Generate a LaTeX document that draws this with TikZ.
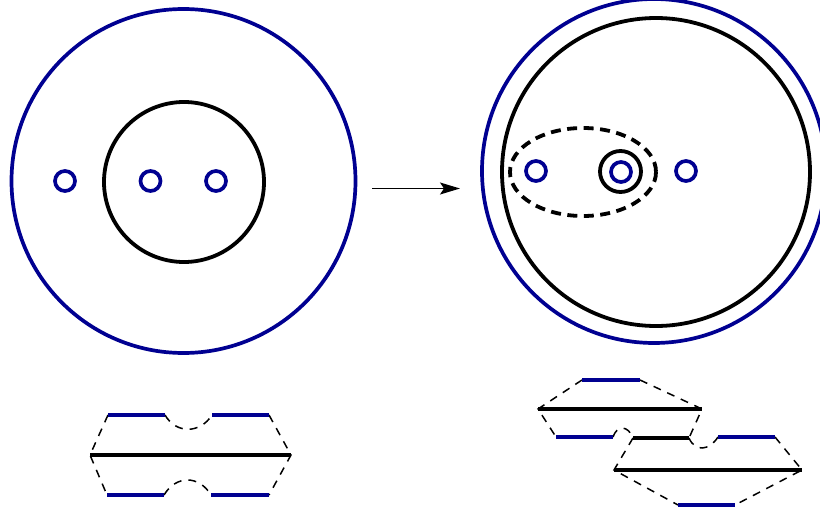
\documentclass[tikz,border=0pt]{standalone}
\usetikzlibrary{arrows.meta}
\definecolor{navy}{RGB}{0,0,145}
\tikzset{
 black line/.style={black,line width=3.8pt},
 ring/.style={navy,line width=3.7pt},
 seam/.style={black,line width=1.5pt,dash pattern=on 8pt off 7pt},
 bar/.style={line width=3.5pt,line cap=butt},
}
\begin{document}
\begin{tikzpicture}[x=1pt,y=-1pt]
\useasboundingbox (0,0) rectangle (820,514);
\clip (0,0) rectangle (820,514);
% left disc
\draw[ring] (183.5,181) circle (172);
\draw[black line] (184,182) circle (80);
\foreach \p in {65,150.5,216} \draw[ring] (\p,181) circle (10);
% arrow
\coordinate (arrowA) at (372,188.5);
\coordinate (arrowB) at (460,188.5);
\draw[-{Stealth[length=20pt,width=12pt,inset=4pt]},line width=1.3pt] (arrowA) -- (arrowB);
% right disc
\draw[ring] (654,171) circle (172);
\draw[black line] (656,172) circle (154);
\draw[ring] (536,171) circle (10);
\draw[ring] (621,172) circle (10);
\draw[ring] (686,171) circle (10);
\draw[black line] (620.5,171.5) circle (20.5);
\draw[black line,dash pattern=on 10pt off 6.5pt] (583,172) ellipse (73 and 44);
% lower left piece
\coordinate (a1) at (108,415); \coordinate (a2) at (165,415);
\coordinate (a3) at (212,415); \coordinate (a4) at (269,415);
\coordinate (b1) at (90,455);  \coordinate (b2) at (291,455);
\coordinate (c1) at (107,495); \coordinate (c2) at (164,495);
\coordinate (c3) at (211,495); \coordinate (c4) at (269,495);
\draw[seam] (a1) -- (b1) -- (c1);
\draw[seam] (a4) -- (b2) -- (c4);
\draw[seam] (a2) .. controls (176,434) and (200,434) .. (a3);
\draw[seam] (c2) .. controls (176,475) and (199,475) .. (c3);
\draw[navy,bar] (a1) -- (a2); \draw[navy,bar] (a3) -- (a4);
\draw[navy,bar] (c1) -- (c2); \draw[navy,bar] (c3) -- (c4);
\draw[black,bar] (b1) -- (b2);
% lower right pieces
\coordinate (d1) at (582,380); \coordinate (d2) at (640,380);
\coordinate (e1) at (538,409); \coordinate (e2) at (702,409);
\coordinate (f1) at (556,437); \coordinate (f2) at (613,437);
\coordinate (g1) at (633,438); \coordinate (g2) at (689,438);
\coordinate (h1) at (718,437); \coordinate (h2) at (775,437);
\coordinate (i1) at (614,470); \coordinate (i2) at (802,470);
\coordinate (j1) at (678,505); \coordinate (j2) at (735,505);
\draw[seam] (d1) -- (e1) -- (f1);
\draw[seam] (d2) -- (e2) -- (g2);
\draw[seam] (f2) .. controls (617,425) and (628,425) .. (g1);
\draw[seam] (g2) .. controls (695,452) and (709,451) .. (h1);
\draw[seam] (g1) -- (i1) -- (j1);
\draw[seam] (h2) -- (i2) -- (j2);
\draw[navy,bar] (d1) -- (d2);
\draw[navy,bar] (f1) -- (f2);
\draw[navy,bar] (h1) -- (h2);
\draw[navy,bar] (j1) -- (j2);
\draw[black,bar] (e1) -- (e2);
\draw[black,bar] (g1) -- (g2);
\draw[black,bar] (i1) -- (i2);
\end{tikzpicture}
\end{document}
